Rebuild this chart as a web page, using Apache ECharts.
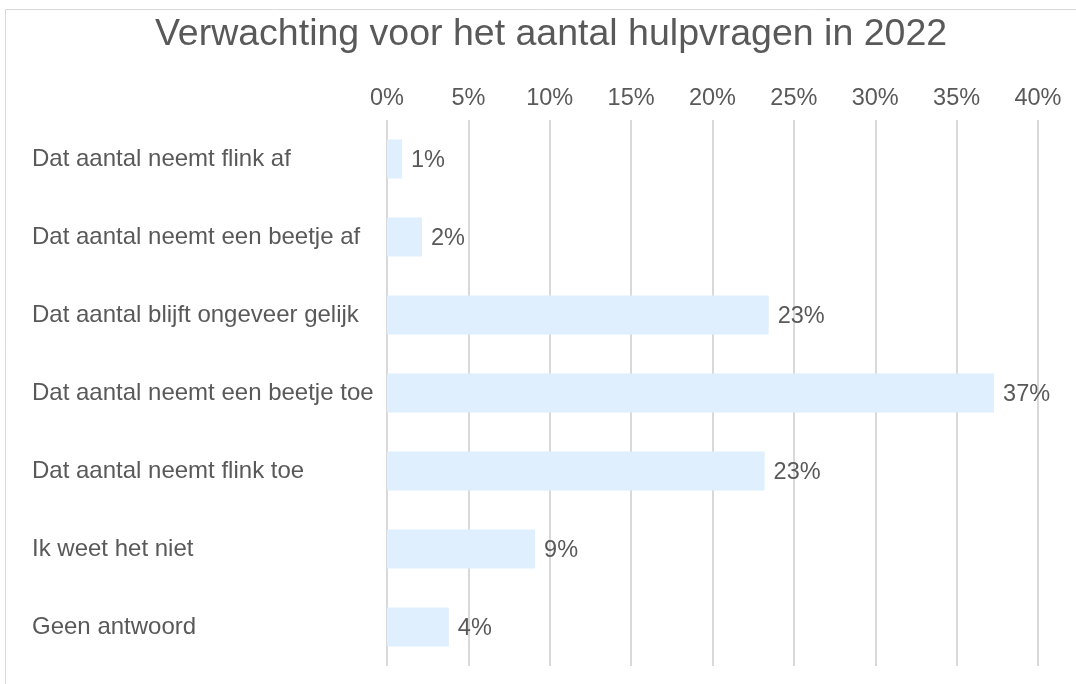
<!DOCTYPE html>
<html>
<head>
<meta charset="utf-8">
<script src="https://cdn.jsdelivr.net/npm/echarts@6/dist/echarts.min.js"></script>
<style>
html,body{margin:0;padding:0;background:#fff;}
#chart{width:1076px;height:684px;}
</style>
</head>
<body>
<div id="chart"></div>
<script>
const titleText = 'Verwachting voor het aantal hulpvragen in 2022';
const categories = [
  'Dat aantal neemt flink af',
  'Dat aantal neemt een beetje af',
  'Dat aantal blijft ongeveer gelijk',
  'Dat aantal neemt een beetje toe',
  'Dat aantal neemt flink toe',
  'Ik weet het niet',
  'Geen antwoord'
];
const values = [0.92, 2.15, 23.45, 37.3, 23.2, 9.1, 3.8];
const axisMin = 0, axisMax = 40, axisStep = 5;

const chart = echarts.init(document.getElementById('chart'));
const font = 'Liberation Sans, Arial, sans-serif';
chart.setOption({
  animation: false,
  title: {
    text: titleText,
    left: 546,
    textAlign: 'center',
    top: 11,
    textStyle: {fontFamily: font, fontSize: 37.5, fontWeight: 'normal', color: '#595959'}
  },
  graphic: [{
    type: 'rect', silent: true,
    shape: {x: 5.5, y: 9.5, width: 1200, height: 800},
    style: {fill: 'none', stroke: '#d9d9d9', lineWidth: 1}
  }],
  grid: {left: 387, right: 38, top: 120, bottom: 18, containLabel: false},
  xAxis: {
    type: 'value', position: 'top', min: axisMin, max: axisMax, interval: axisStep,
    axisLine: {show: false}, axisTick: {show: false},
    axisLabel: {formatter: v => v + '%', color: '#595959', fontFamily: font, fontSize: 23.5, margin: 9},
    splitLine: {show: true, lineStyle: {color: '#d9d9d9', width: 2}}
  },
  yAxis: {
    type: 'category', data: categories, inverse: true,
    axisLine: {show: false}, axisTick: {show: false},
    axisLabel: {align: 'left', margin: 355, color: '#595959', fontFamily: font, fontSize: 24, padding: [4, 0, 0, 0]}
  },
  series: [{
    type: 'bar', data: values, barCategoryGap: '50%',
    itemStyle: {color: '#dfeffd'},
    label: {show: true, position: 'right', distance: 9, offset: [0, 2], formatter: p => Math.round(p.value) + '%',
      color: '#595959', fontFamily: font, fontSize: 23.5}
  }]
});
</script>
</body>
</html>
